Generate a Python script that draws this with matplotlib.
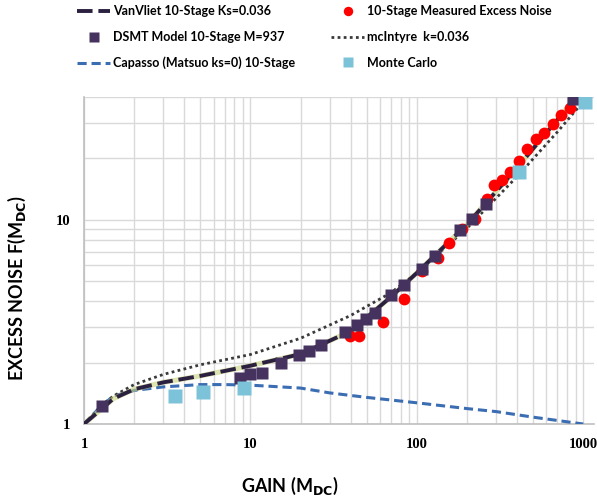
import matplotlib
matplotlib.use("Agg")
import matplotlib.pyplot as plt
from matplotlib.ticker import LogLocator, NullFormatter, FixedLocator, FixedFormatter

# --- data ---
vanvliet_m = [1, 1.3, 1.5, 2, 3, 5, 10, 20, 40, 70, 100, 200, 400, 700, 1000]
vanvliet_f = [1.0, 1.2, 1.33, 1.48, 1.6, 1.72, 1.93, 2.2, 2.85, 4.2, 5.5, 9.5, 18.0, 31.0, 44.0]

mcintyre_m = [1, 1.3, 1.5, 2, 3, 5, 10, 20, 40, 70, 100, 200, 400, 700, 1000]
mcintyre_f = [1.0, 1.25, 1.37, 1.56, 1.75, 1.95, 2.19, 2.63, 3.4, 4.4, 5.5, 9.1, 16.3, 27.0, 38.0]

capasso_m = [1, 1.25, 1.5, 2, 3, 5, 7, 10, 20, 30, 50, 100, 200, 300, 500, 1000]
capasso_f = [1.0, 1.21, 1.37, 1.46, 1.52, 1.56, 1.56, 1.55, 1.5, 1.42, 1.35, 1.27, 1.19, 1.15, 1.08, 1.0]

dsmt_m = [1.28, 8.67, 9.9, 11.7, 15.3, 19.7, 22.4, 26.5, 36.8, 43.6, 49.4, 56.3,
          70.0, 83.5, 107.6, 129, 181, 215, 259, 869]
dsmt_f = [1.22, 1.68, 1.75, 1.78, 2.0, 2.17, 2.29, 2.44, 2.82, 3.07, 3.28, 3.51,
          4.27, 4.8, 5.73, 6.67, 8.9, 10.1, 11.95, 39.0]

meas_m = [39.4, 45, 63, 84, 108, 134, 157, 187, 223, 265, 292, 326, 364, 409,
          460, 517, 581, 661, 738, 830, 935]
meas_f = [2.69, 2.69, 3.17, 4.1, 5.64, 6.47, 7.7, 9.0, 10.1, 12.6, 14.9, 15.7, 17.2, 19.5,
          22.2, 24.9, 26.5, 29.6, 32.6, 35.3, 39.7]

mc_m = [3.52, 5.22, 9.17, 412, 1028]
mc_f = [1.375, 1.44, 1.5, 17.1, 37.8]

x_ticks = [1, 10, 100, 1000]
y_ticks = [1, 10]

LABEL_FONT = ["Lato", "DejaVu Sans"]
TICK_FONT = ["Liberation Serif", "DejaVu Serif"]

fig = plt.figure(figsize=(5.97, 5.0), dpi=100)
ax = fig.add_axes([84 / 597, 1 - 424 / 500, (594 - 84) / 597, (424 - 97) / 500])

ax.plot(capasso_m, capasso_f, color="#3b6db3", lw=2.2, dashes=(3, 1.6),
        label="Capasso (Matsuo ks=0) 10-Stage", zorder=3)
ax.plot(mcintyre_m, mcintyre_f, color="#3a3a3a", lw=2.0, linestyle=(0, (1, 1.2)),
        label="mcIntyre  k=0.036", zorder=4)
ax.plot(vanvliet_m, vanvliet_f, color="#c8d27a", lw=3.6, alpha=0.6, zorder=4)
ax.plot(vanvliet_m, vanvliet_f, color="#2b2040", lw=2.8, dashes=(4, 1.5),
        label="VanVliet 10-Stage Ks=0.036", zorder=5)
ax.plot(meas_m, meas_f, "o", color="#ff0000", ms=8.5, mec="none",
        label="10-Stage Measured Excess Noise", zorder=6)
ax.plot(dsmt_m, dsmt_f, "s", color="#45325f", ms=8.5, mec="none",
        label="DSMT Model 10-Stage M=937", zorder=7)
ax.plot(mc_m, mc_f, "s", color="#7cc3d9", ms=9.5, mec="none",
        label="Monte Carlo", zorder=8)

ax.set_xscale("log")
ax.set_yscale("log")
ax.set_xlim(1, 1160)
ax.set_ylim(1, 40)

ax.xaxis.set_major_locator(FixedLocator(x_ticks))
ax.xaxis.set_major_formatter(FixedFormatter([str(t) for t in x_ticks]))
ax.yaxis.set_major_locator(FixedLocator(y_ticks))
ax.yaxis.set_major_formatter(FixedFormatter([str(t) for t in y_ticks]))
ax.xaxis.set_minor_locator(LogLocator(base=10, subs=range(2, 10), numticks=20))
ax.yaxis.set_minor_locator(LogLocator(base=10, subs=range(2, 10), numticks=20))
ax.xaxis.set_minor_formatter(NullFormatter())
ax.yaxis.set_minor_formatter(NullFormatter())

ax.grid(True, which="both", color="#d9d9d9", linewidth=1.0)
ax.set_axisbelow(True)
ax.tick_params(which="both", length=0, pad=10)
for lbl in ax.get_xticklabels() + ax.get_yticklabels():
    lbl.set_family(TICK_FONT)
    lbl.set_fontsize(10.5)
    lbl.set_fontweight("bold")

for side in ["top", "right"]:
    ax.spines[side].set_visible(False)
for side in ["left", "bottom"]:
    ax.spines[side].set_color("#bfbfbf")
    ax.spines[side].set_linewidth(1.2)

fig.text(290 / 597, 1 - 486 / 500, r"GAIN (M$_{\mathbf{DC}}$)", ha="center", va="center",
         fontsize=13, fontweight="bold", family=LABEL_FONT)
fig.text(17 / 597, 1 - 288 / 500, r"EXCESS NOISE F(M$_{\mathbf{DC}}$)", ha="center",
         va="center", rotation=90, fontsize=13, fontweight="bold", family=LABEL_FONT)

handles, labels = ax.get_legend_handles_labels()
by = dict(zip(labels, handles))
order = ["VanVliet 10-Stage Ks=0.036", "DSMT Model 10-Stage M=937",
         "Capasso (Matsuo ks=0) 10-Stage", "10-Stage Measured Excess Noise",
         "mcIntyre  k=0.036", "Monte Carlo"]
fig.legend([by[k] for k in order], order, ncol=2, loc="upper left",
           bbox_to_anchor=(66 / 597, 1.012), frameon=False, handlelength=2.6,
           handletextpad=0.25, columnspacing=2.9, labelspacing=1.1,
           markerscale=0.8, prop={"family": LABEL_FONT, "weight": "bold", "size": 9})

fig.savefig("out.png", dpi=100)
